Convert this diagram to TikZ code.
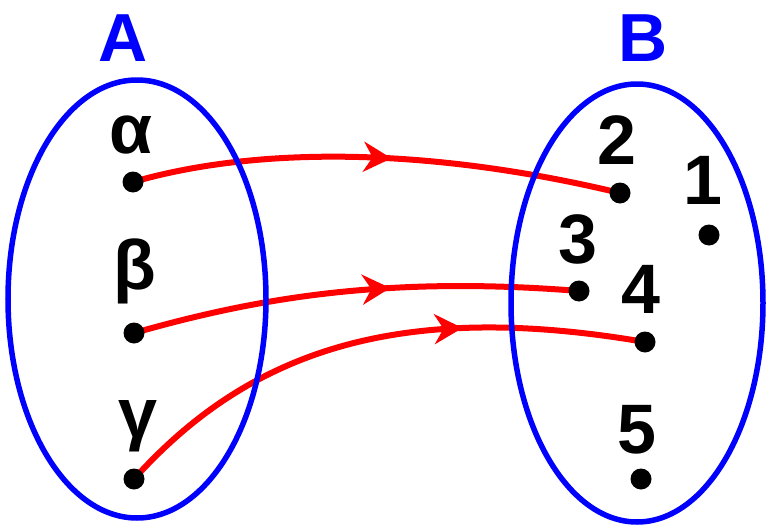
\documentclass[tikz,border=0pt]{standalone}
\usepackage{fontspec}
\setmainfont{Liberation Sans}
\usetikzlibrary{arrows.meta,decorations.markings,backgrounds}
\begin{document}
\begin{tikzpicture}[x=1pt,y=-1pt,
  setbound/.style={draw=blue,line width=5.5pt},
  lbl/.style={font=\fontsize{70}{70}\selectfont\bfseries,inner sep=0pt},
  setname/.style={font=\fontsize{68}{68}\selectfont\bfseries,text=blue,inner sep=0pt},
  elem/.style={circle,fill=black,minimum size=21pt,inner sep=0pt},
  maparrow/.style={draw=red,line width=6pt,postaction={decorate},
    decoration={markings,mark=at position #1 with {\arrow{Stealth[length=28pt,width=30pt,inset=9pt,red]}}}}
]
\useasboundingbox (0,0) rectangle (769,530);
% sets
\draw[setbound] (137,299) ellipse [x radius=129, y radius=219];
\draw[setbound] (637,303) ellipse [x radius=126, y radius=219];
\node[setname] (nA) at (123,38) {A};
\node[setname] (nB) at (643,38) {B};
% elements of A
\node[elem] (a) at (133,182) {};
\node[elem] (b) at (134,333) {};
\node[elem] (c) at (134,479) {};
\node[lbl] (la) at (131,135) {α};
\node[lbl] (lb) at (135,271) {β};
\node[lbl] (lc) at (138,426) {γ};
% elements of B
\node[elem] (e2) at (620,193) {};
\node[elem] (e1) at (709,235) {};
\node[elem] (e3) at (579,291) {};
\node[elem] (e4) at (645,342) {};
\node[elem] (e5) at (641,479) {};
\node[lbl] (l2) at (617,140) {2};
\node[lbl] (l1) at (703,180) {1};
\node[lbl] (l3) at (578,239) {3};
\node[lbl] (l4) at (641,289) {4};
\node[lbl] (l5) at (637,430) {5};
% mappings
\begin{scope}[on background layer]
\draw[maparrow=0.53] (a.center) .. controls (250,148) and (420,145) .. (e2.center);
\draw[maparrow=0.58] (b.center) .. controls (250,300) and (380,275) .. (e3.center);
\draw[maparrow=0.67] (c.center) .. controls (250,350) and (400,300) .. (e4.center);
\end{scope}
\end{tikzpicture}
\end{document}
